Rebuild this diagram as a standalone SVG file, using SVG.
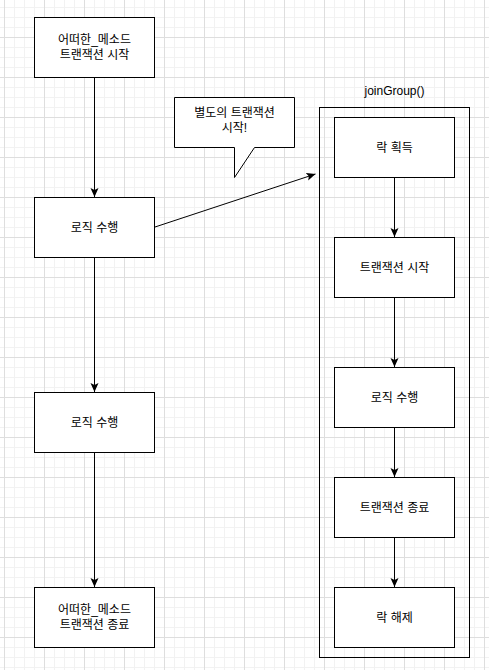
<svg xmlns="http://www.w3.org/2000/svg" width="489" height="670" viewBox="0 0 489 670">
<style>
.box{fill:#fff;stroke:#000;stroke-width:1}
.lbl{font-family:"Liberation Sans","Noto Sans CJK KR",sans-serif;font-size:12px;fill:#000;text-anchor:middle}
.edge{fill:none;stroke:#000;stroke-width:1}
</style>
<defs>
<pattern id="grid" patternUnits="userSpaceOnUse" x="4" y="-3" width="40" height="40">
<rect x="0" y="0" width="40" height="40" fill="#fff"/>
<g fill="#f2f2f2">
<rect x="10" y="0" width="1" height="40"/><rect x="20" y="0" width="1" height="40"/><rect x="30" y="0" width="1" height="40"/>
<rect x="0" y="10" width="40" height="1"/><rect x="0" y="20" width="40" height="1"/><rect x="0" y="30" width="40" height="1"/>
</g>
<g fill="#dedede">
<rect x="0" y="0" width="1" height="40"/><rect x="0" y="0" width="40" height="1"/>
</g>
</pattern>
<marker id="arr" markerUnits="userSpaceOnUse" markerWidth="10" markerHeight="10" refX="9" refY="4" orient="auto">
<path d="M0,0 L9,4 L0,8 L2,4 Z" fill="#000"/>
</marker>
</defs>
<rect x="0" y="0" width="489" height="670" fill="url(#grid)"/>

<g id="connectors">
<path class="edge" d="M94.5,77.5 V197" marker-end="url(#arr)"/>
<path class="edge" d="M94.5,257.5 V392" marker-end="url(#arr)"/>
<path class="edge" d="M94.5,452.5 V587" marker-end="url(#arr)"/>
<path class="edge" d="M155,227 L315.5,174" marker-end="url(#arr)"/>
<path class="edge" d="M394.5,177.5 V237" marker-end="url(#arr)"/>
<path class="edge" d="M394.5,297.5 V367" marker-end="url(#arr)"/>
<path class="edge" d="M394.5,427.5 V477" marker-end="url(#arr)"/>
<path class="edge" d="M394.5,537.5 V587" marker-end="url(#arr)"/>
</g>

<g id="joinGroup">
<rect x="319.5" y="107.5" width="150" height="550" fill="none" stroke="#000" stroke-width="1"/>
<text class="lbl" x="394.5" y="95">joinGroup()</text>
</g>

<g id="start">
<rect class="box" x="34.5" y="17.5" width="120" height="60"/>
<text class="lbl" x="94.5" y="44">어떠한_메소드</text>
<text class="lbl" x="94.5" y="58.5">트랜잭션 시작</text>
</g>
<g id="logic1">
<rect class="box" x="34.5" y="197.5" width="120" height="60"/>
<text class="lbl" x="94.5" y="231.5">로직 수행</text>
</g>
<g id="logic2">
<rect class="box" x="34.5" y="392.5" width="120" height="60"/>
<text class="lbl" x="94.5" y="426.5">로직 수행</text>
</g>
<g id="end">
<rect class="box" x="34.5" y="587.5" width="120" height="60"/>
<text class="lbl" x="94.5" y="614">어떠한_메소드</text>
<text class="lbl" x="94.5" y="628.5">트랜잭션 종료</text>
</g>

<g id="callout">
<path class="box" d="M174.5,97.5 H294.5 V147.5 H254.5 L234.5,177.5 V147.5 H174.5 Z"/>
<text class="lbl" x="234.5" y="117">별도의 트랜잭션</text>
<text class="lbl" x="234.5" y="131.5">시작!</text>
</g>

<g id="lock">
<rect class="box" x="334.5" y="117.5" width="120" height="60"/>
<text class="lbl" x="394.5" y="151.5">락 획득</text>
</g>
<g id="txstart">
<rect class="box" x="334.5" y="237.5" width="120" height="60"/>
<text class="lbl" x="394.5" y="271.5">트랜잭션 시작</text>
</g>
<g id="logic3">
<rect class="box" x="334.5" y="367.5" width="120" height="60"/>
<text class="lbl" x="394.5" y="401.5">로직 수행</text>
</g>
<g id="txend">
<rect class="box" x="334.5" y="477.5" width="120" height="60"/>
<text class="lbl" x="394.5" y="511.5">트랜잭션 종료</text>
</g>
<g id="unlock">
<rect class="box" x="334.5" y="587.5" width="120" height="60"/>
<text class="lbl" x="394.5" y="621.5">락 해제</text>
</g>
</svg>
